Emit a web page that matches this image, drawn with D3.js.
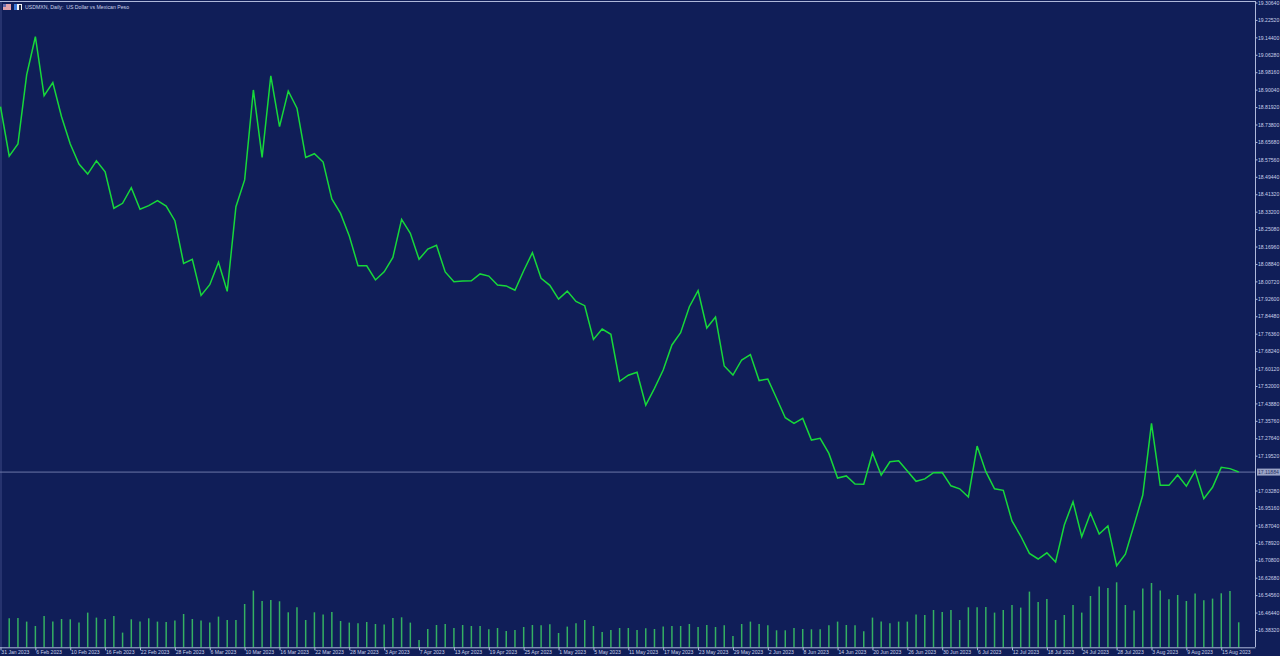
<!DOCTYPE html>
<html><head><meta charset="utf-8">
<script src="https://cdn.jsdelivr.net/npm/d3@7"></script>
<style>
html,body{margin:0;padding:0;background:#101e58;overflow:hidden}
svg{display:block}
text{font-family:"Liberation Sans",sans-serif}
</style></head><body>
<svg id="c" width="1280" height="656"></svg>
<script>
const title = "USDMXN, Daily:  US Dollar vs Mexican Peso";
const closePrices = [18.821,18.591,18.647,18.969,19.147,18.872,18.933,18.774,18.647,18.554,18.507,18.569,18.518,18.348,18.371,18.444,18.343,18.360,18.383,18.358,
18.290,18.091,18.110,17.942,17.992,18.096,17.961,18.355,18.480,18.899,18.585,18.965,18.728,18.894,18.814,18.585,18.602,18.563,18.391,18.324,
18.219,18.080,18.080,18.014,18.052,18.119,18.296,18.231,18.110,18.158,18.175,18.051,18.006,18.009,18.010,18.042,18.032,17.990,17.986,17.966,
18.057,18.141,18.022,17.989,17.925,17.962,17.914,17.894,17.737,17.785,17.761,17.542,17.570,17.584,17.431,17.509,17.594,17.711,17.768,17.889,
17.964,17.790,17.841,17.613,17.571,17.641,17.666,17.545,17.552,17.463,17.372,17.346,17.369,17.268,17.276,17.206,17.091,17.101,17.063,17.062,
17.208,17.105,17.167,17.172,17.124,17.076,17.087,17.116,17.117,17.055,17.041,17.003,17.240,17.121,17.041,17.034,16.891,16.821,16.740,16.714,
16.743,16.700,16.872,16.981,16.818,16.927,16.830,16.868,16.683,16.736,16.872,17.012,17.346,17.057,17.057,17.105,17.053,17.125,16.995,17.048,
17.141,17.135,17.119];
const tickVolume = [null,29,29.3,25.7,21.3,31.3,25.7,28.3,28,24.7,34.7,29.7,28.3,31.3,14.7,28,25.7,29,25.7,25.3,
26.7,33.3,28.3,26.7,24.7,30.7,27.3,27.3,43.3,56.7,46.3,47.3,46,35,40,27.3,35,32.7,35.3,26.3,
24.7,24,25.3,23.3,22.7,29.3,30,24.7,7.3,18.3,22.3,23.3,19.3,22.3,21.3,21.3,18,19.3,16.3,17.3,
20.3,22.3,22,23,14.3,20.7,24,27.3,21.3,15.3,17.3,19.3,19.3,17.3,19,18.3,20.7,21.3,21.3,23.3,
20.3,22.3,20.3,22,11.3,23.3,25.7,23.3,22,17,17,19.3,18.3,18,18,22,25.7,22.3,22,16,
29.7,25.7,24,25.7,25.7,32.7,32.3,37.3,35.3,37.3,27.3,40,40,40.3,34.7,37.3,42.3,39.7,55.7,45.3,
48.3,27.3,32.3,42.3,34.7,51.3,60.7,59.3,65,42.3,36.7,58.7,64.3,56.7,48,52.3,46.3,53.7,47,48.7,
54,56.3,25];
const dateLabels = ["31 Jan 2023","6 Feb 2023","10 Feb 2023","16 Feb 2023","22 Feb 2023","28 Feb 2023","6 Mar 2023","10 Mar 2023","16 Mar 2023","22 Mar 2023","28 Mar 2023","3 Apr 2023","7 Apr 2023","13 Apr 2023","19 Apr 2023","25 Apr 2023","1 May 2023","5 May 2023","11 May 2023","17 May 2023","23 May 2023","29 May 2023","2 Jun 2023","8 Jun 2023","14 Jun 2023","20 Jun 2023","26 Jun 2023","30 Jun 2023","6 Jul 2023","12 Jul 2023","18 Jul 2023","24 Jul 2023","28 Jul 2023","3 Aug 2023","9 Aug 2023","15 Aug 2023"];
const dateBarStep = 4;
const priceTicks = [19.3064,19.2252,19.144,19.0628,18.9816,18.9004,18.8192,18.738,18.6568,18.5756,18.4944,18.4132,18.332,18.2508,18.1696,18.0884,18.0072,17.926,17.8448,17.7636,17.6824,17.6012,17.52,17.4388,17.3576,17.2764,17.1952,17.0328,16.9516,16.8704,16.7892,16.708,16.6268,16.5456,16.4644,16.3832];
const lastPrice = 17.11884;

const BG="#101e58", AX="#aeb8da", TXT="#c9d0ea", GREEN="#17d83a";
const svg=d3.select("#c");
const x=d3.scaleLinear().domain([0,closePrices.length-1]).range([0.5,1238.7]);
const y=d3.scaleLinear().domain([19.3064,16.3832]).range([2.5,630]);
const v=d3.scaleLinear().domain([0,70]).range([647.3,577.3]);

svg.append("rect").attr("width",1280).attr("height",656).attr("fill",BG);

// frame
svg.append("line").attr("x1",1).attr("x2",1).attr("y1",1).attr("y2",647).attr("stroke","#3c4884").attr("stroke-width",1);
svg.append("line").attr("x1",0).attr("x2",1255).attr("y1",1.5).attr("y2",1.5).attr("stroke",AX).attr("stroke-width",1);

// volume
svg.append("g").selectAll("line")
  .data(tickVolume.map((d,i)=>({d,i})).filter(o=>o.d!==null))
  .join("line")
  .attr("x1",o=>x(o.i)).attr("x2",o=>x(o.i))
  .attr("y1",v(0)).attr("y2",o=>v(o.d))
  .attr("stroke","#34b062").attr("stroke-width",1.5);

// last price line
svg.append("line").attr("x1",0).attr("x2",1255).attr("y1",y(lastPrice)).attr("y2",y(lastPrice))
  .attr("stroke","#6d78a8").attr("stroke-width",1);

// price line
svg.append("path").datum(closePrices)
  .attr("fill","none").attr("stroke",GREEN).attr("stroke-width",1.5).attr("stroke-linejoin","miter")
  .attr("d",d3.line().x((d,i)=>x(i)).y(d=>y(d)));

// right axis
const ra=svg.append("g").attr("transform","translate(1255,0)")
  .call(d3.axisRight(y).tickValues(priceTicks).tickFormat(d3.format(".5f")).tickSize(2.5).tickPadding(0.5));
ra.select(".domain").attr("stroke",AX).attr("d","M0.5,1V647");
ra.selectAll("line").attr("stroke",AX);
ra.selectAll("text").attr("fill",TXT).attr("font-size",5.1).attr("font-family","Liberation Sans");

// last price tag
svg.append("rect").attr("x",1257).attr("y",y(lastPrice)-3.5).attr("width",23).attr("height",7).attr("fill","#9aa3c6");
svg.append("text").attr("x",1258).attr("y",y(lastPrice)+1.8).attr("font-size",5.1).attr("fill","#2a3568").text(lastPrice.toFixed(5));

// bottom axis
const tickIdx=dateLabels.map((_,k)=>k*dateBarStep);
const ba=svg.append("g").attr("transform","translate(0,647.3)")
  .call(d3.axisBottom(x).tickValues(tickIdx).tickFormat((d,k)=>dateLabels[k]).tickSize(3).tickPadding(0));
ba.select(".domain").attr("stroke",AX).attr("d","M0,0.5H1255.5");
ba.selectAll("line").attr("stroke",AX);
ba.selectAll("text").attr("fill",TXT).attr("font-size",5.1).attr("font-family","Liberation Sans")
  .attr("text-anchor","start").attr("dy",0).attr("y",7).attr("x",0.3);

// title and icons
const ic=svg.append("g");
ic.append("rect").attr("x",3).attr("y",4).attr("width",8).attr("height",6).attr("fill","#e9e4ea");
ic.selectAll(".s").data([4.5,6.5,8.5]).join("rect").attr("x",3).attr("y",d=>d).attr("width",8).attr("height",1).attr("fill","#d9606a");
ic.append("rect").attr("x",3).attr("y",4).attr("width",3).attr("height",3).attr("fill","#6a6fb0");
ic.append("rect").attr("x",14).attr("y",4).attr("width",8).attr("height",6).attr("fill","#eef1f6");
ic.append("rect").attr("x",14).attr("y",4).attr("width",3).attr("height",6).attr("fill","#3b78d8");
ic.append("rect").attr("x",19).attr("y",5).attr("width",2).attr("height",5).attr("fill","#20263f");
svg.append("text").attr("x",25).attr("y",9).attr("font-size",5.2).attr("fill",TXT).style("white-space","pre").text(title);
</script>
</body></html>
